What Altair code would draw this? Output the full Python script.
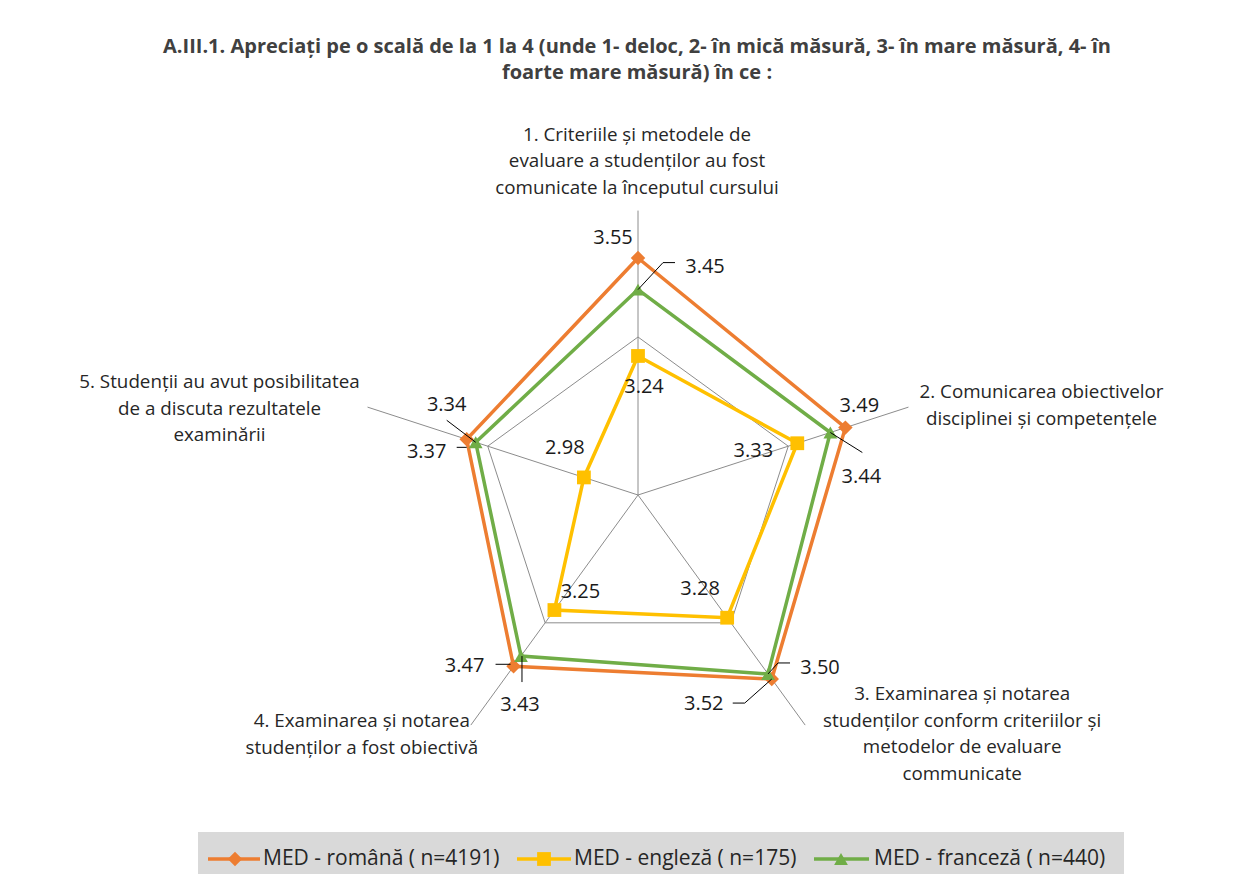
import altair as alt
import pandas as pd

# ---------------- data ----------------
categories = [
    "1. Criteriile și metodele de\nevaluare a studenților au fost\ncomunicate la începutul cursului",
    "2. Comunicarea obiectivelor\ndisciplinei și competențele",
    "3. Examinarea și notarea\nstudenților conform criteriilor și\nmetodelor de evaluare\ncommunicate",
    "4. Examinarea și notarea\nstudenților a fost obiectivă",
    "5. Studenții au avut posibilitatea\nde a discuta rezultatele\nexaminării",
]
series_names = ["MED - română ( n=4191)", "MED - engleză ( n=175)", "MED - franceză ( n=440)"]
values_romana = [3.55, 3.49, 3.52, 3.47, 3.37]
values_engleza = [3.24, 3.33, 3.28, 3.25, 2.98]
values_franceza = [3.45, 3.44, 3.50, 3.43, 3.34]
title_lines = [
    "A.III.1. Apreciați pe o scală de la 1 la 4 (unde 1- deloc, 2- în mică măsură, 3- în mare măsură, 4- în",
    "foarte mare măsură) în ce :",
]
AXIS_MIN = 2.8
AXIS_MAX = 3.7
GRID_VALUE = 3.3

# ---------------- style ----------------
W, H = 1233, 866
K = 316.0          # pixels per value unit
CX, CY = 630, 487  # radar centre inside the plot area
colors = ["#ED7D31", "#FFC000", "#70AD47"]
shapes = ["diamond", "square", "triangle-up"]
marker_sizes = [210, 190, 190]
FONT = "Open Sans"

# pixel offsets of each value label from its point (series x category)
label_offsets = [
    [(-25, -20), (14, -22), (-68, 25), (-49, 0), (-40, 13)],
    [(6, 31), (-44, 8), (-27, -29), (26, -18), (-19, -29)],
    [(67, -23), (31, 44), (52, -6), (-1, 49), (-29, -37)],
]
# leader lines (pixel offsets from the point)
leaders = {
    (2, 0): [(0, 0), (25, -27), (37, -27)],
    (2, 1): [(0, 0), (32, 20)],
    (0, 2): [(0, 0), (-27, 24), (-39, 24)],
    (2, 2): [(0, 0), (10, -11), (22, -11)],
    (0, 3): [(-3, -2), (-18, -2)],
    (2, 3): [(1, 0), (1, 26)],
    (0, 4): [(0, 8), (-10, 8)],
    (2, 4): [(0, 0), (-29, -22)],
}
cat_label_offsets = [(-1, -70), (133, -9), (157, -25), (-109, 2), (-148, -19)]

all_values = [values_romana, values_engleza, values_franceza]

xs = alt.Scale(domain=[-CX / K, (W - CX) / K], nice=False, zero=False)
ys = alt.Scale(domain=[-(H - CY) / K, CY / K], nice=False, zero=False)


def polar(ch):
    return ch.transform_calculate(
        r=f"datum.v - {AXIS_MIN}",
        ang="datum.i * 2 * PI / 5",
    ).transform_calculate(
        px="datum.r * sin(datum.ang) + datum.ox / " + str(K),
        py="datum.r * cos(datum.ang) - datum.oy / " + str(K),
        x0="0",
        y0="0",
    )


X = alt.X("px:Q", scale=xs, axis=None)
Y = alt.Y("py:Q", scale=ys, axis=None)

layers = []

# spokes
spoke_df = pd.DataFrame({"i": list(range(5)), "v": [AXIS_MAX] * 5, "ox": [0] * 5, "oy": [0] * 5})
spokes = polar(alt.Chart(spoke_df)).mark_rule(color="#8c8c8c", strokeWidth=1).encode(
    x=alt.X("x0:Q", scale=xs, axis=None),
    y=alt.Y("y0:Q", scale=ys, axis=None),
    x2="px:Q",
    y2="py:Q",
)
layers.append(spokes)

# grid ring
ring_df = pd.DataFrame({"i": list(range(6)), "v": [GRID_VALUE] * 6, "ox": [0] * 6, "oy": [0] * 6})
ring = polar(alt.Chart(ring_df)).mark_line(color="#8c8c8c", strokeWidth=1).encode(
    x=X, y=Y, order="i:Q",
)
layers.append(ring)

# category labels
cat_df = pd.DataFrame({
    "i": list(range(5)),
    "v": [AXIS_MAX] * 5,
    "ox": [o[0] for o in cat_label_offsets],
    "oy": [o[1] for o in cat_label_offsets],
    "label": categories,
})
cat_text = polar(alt.Chart(cat_df)).mark_text(
    font=FONT, fontSize=18.8, color="#262626", align="center", baseline="alphabetic",
    lineBreak="\n", lineHeight=26.5,
).encode(x=X, y=Y, text="label:N")
layers.append(cat_text)

# series lines and markers
for s, (name, vals) in enumerate(zip(series_names, all_values)):
    closed = vals + [vals[0]]
    df = pd.DataFrame({"i": list(range(6)), "v": closed, "ox": [0] * 6, "oy": [0] * 6})
    line = polar(alt.Chart(df)).mark_line(color=colors[s], strokeWidth=3.5).encode(
        x=X, y=Y, order="i:Q",
    )
    pts_df = pd.DataFrame({"i": list(range(5)), "v": vals, "ox": [0] * 5, "oy": [0] * 5})
    pts = polar(alt.Chart(pts_df)).mark_point(
        shape=shapes[s], filled=True, opacity=1, color=colors[s], size=marker_sizes[s]
    ).encode(x=X, y=Y)
    layers += [line, pts]

# leader lines
lead_rows = []
for (s, i), pts_off in leaders.items():
    for j, (ox, oy) in enumerate(pts_off):
        lead_rows.append({"key": f"{s}-{i}", "j": j, "i": i, "v": all_values[s][i], "ox": ox, "oy": oy})
lead_df = pd.DataFrame(lead_rows)
lead = polar(alt.Chart(lead_df)).mark_line(color="#000000", strokeWidth=1).encode(
    x=X, y=Y, detail="key:N", order="j:Q",
)
layers.append(lead)

# value labels
lab_rows = []
for s, vals in enumerate(all_values):
    for i, v in enumerate(vals):
        lab_rows.append({"i": i, "v": v, "ox": label_offsets[s][i][0], "oy": label_offsets[s][i][1],
                         "txt": f"{v:.2f}"})
lab_df = pd.DataFrame(lab_rows)
labels = polar(alt.Chart(lab_df)).mark_text(
    font=FONT, fontSize=20, color="#1a1a1a", align="center", baseline="middle"
).encode(x=X, y=Y, text="txt:N")
layers.append(labels)

# title
one = pd.DataFrame({"a": [0]})
title = alt.Chart(one).mark_text(
    font=FONT, fontSize=20, fontWeight="bold", color="#404040", align="center",
    baseline="alphabetic", lineBreak="\n", lineHeight=26,
).encode(x=alt.value(629), y=alt.value(45), text=alt.value("\n".join(title_lines)))
layers.append(title)

# legend
leg_box = alt.Chart(one).mark_rect(color="#D9D9D9").encode(
    x=alt.value(190), x2=alt.value(1116), y=alt.value(824), y2=alt.value(H)
)
layers.append(leg_box)
leg_x = [(200, 252, 227, 255), (509, 563, 536, 566), (806, 861, 833, 866)]
LY = 851
for s, name in enumerate(series_names):
    x0, x1, xm, xt = leg_x[s]
    layers.append(alt.Chart(one).mark_rule(color=colors[s], strokeWidth=3.5).encode(
        x=alt.value(x0), x2=alt.value(x1), y=alt.value(LY)))
    layers.append(alt.Chart(one).mark_point(
        shape=shapes[s], filled=True, opacity=1, color=colors[s], size=marker_sizes[s]
    ).encode(x=alt.value(xm), y=alt.value(LY)))
    layers.append(alt.Chart(one).mark_text(
        font=FONT, fontSize=21, color="#262626", align="left", baseline="middle"
    ).encode(x=alt.value(xt), y=alt.value(LY), text=alt.value(name)))

chart = alt.layer(*layers).properties(
    width=W, height=H, autosize=alt.AutoSizeParams(type="none"), padding=0,
    background="white",
).configure_view(strokeWidth=0)

chart.save("out.html", embed_options={"renderer": "svg", "actions": False})
